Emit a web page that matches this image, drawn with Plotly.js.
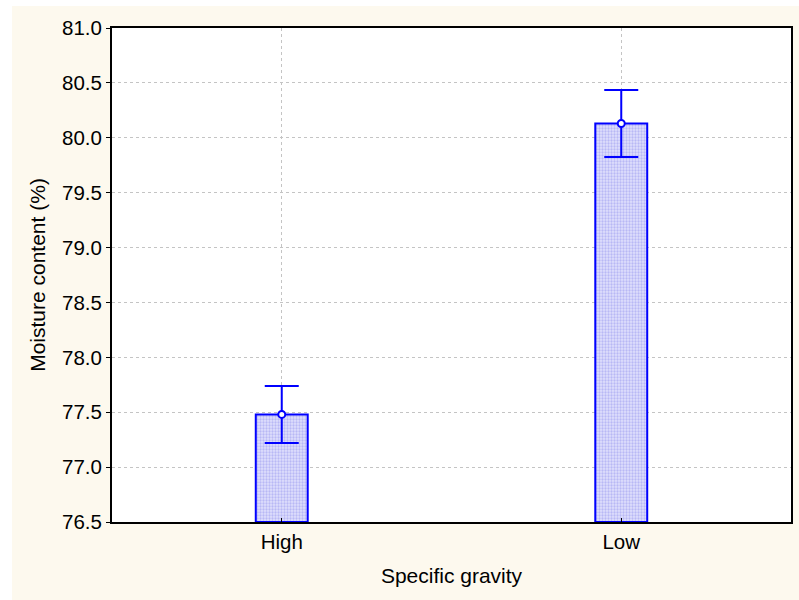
<!DOCTYPE html>
<html><head><meta charset="utf-8">
<script src="https://cdn.plot.ly/plotly-3.0.1.min.js"></script>
<style>
html,body{margin:0;padding:0;background:#ffffff;width:799px;height:600px;overflow:hidden;}
#chart{position:absolute;left:12px;top:6px;width:787px;height:594px;}
</style></head>
<body><div id="chart"></div>
<script>
const categories = ["High", "Low"];
const means = [77.48, 80.13];
const errors = [0.26, 0.305];
const yTickVals = [76.5, 77.0, 77.5, 78.0, 78.5, 79.0, 79.5, 80.0, 80.5, 81.0];
const yTickText = ["76.5", "77.0", "77.5", "78.0", "78.5", "79.0", "79.5", "80.0", "80.5", "81.0"];
const yBase = 76.5;

const tickFont = {family: "Arial, Liberation Sans, sans-serif", size: 20.5, color: "#000"};
const titleFont = {family: "Arial, Liberation Sans, sans-serif", size: 21, color: "#000"};

const bars = {
  type: "bar", x: categories, y: means.map(v => v - yBase), base: yBase,
  width: 0.153,
  marker: {
    color: "#d0d0fa",
    line: {color: "#0000ff", width: 2},
    pattern: {shape: ".", size: 3, solidity: 0.45, fgcolor: "#b8b8f5", bgcolor: "#e0e0fd", fillmode: "replace"}
  },
  error_y: {type: "data", array: errors, visible: true, color: "#0000ff", thickness: 2, width: 17},
  hoverinfo: "none", showlegend: false
};

const pts = {
  type: "scatter", mode: "markers", x: categories, y: means,
  marker: {symbol: "circle", size: 7, color: "#ffffff", line: {color: "#0000ff", width: 2}},
  hoverinfo: "none", showlegend: false
};

const layout = {
  width: 787, height: 594,
  paper_bgcolor: "#fdf9ee", plot_bgcolor: "#ffffff",
  margin: {l: 100, r: 8, t: 22, b: 78},
  font: tickFont,
  xaxis: {
    type: "category", range: [-0.5, 1.5],
    showline: true, linecolor: "#000", linewidth: 2, mirror: true,
    ticks: "inside", ticklen: 4, tickcolor: "#000", tickwidth: 1,
    showgrid: true, gridcolor: "#c4c4c4", griddash: "dot", gridwidth: 1,
    tickfont: tickFont,
    title: {text: "Specific gravity", font: titleFont, standoff: 17}
  },
  yaxis: {
    range: [76.5, 81.0], tickvals: yTickVals, ticktext: yTickText,
    showline: true, linecolor: "#000", linewidth: 2, mirror: true,
    ticks: "outside", ticklen: 4, tickcolor: "#000", tickwidth: 1,
    showgrid: true, gridcolor: "#c4c4c4", griddash: "dot", gridwidth: 1,
    zeroline: false, tickfont: tickFont,
    title: {text: "Moisture content (%)", font: titleFont, standoff: 11}
  },
  bargap: 0
};

Plotly.newPlot("chart", [bars, pts], layout, {displayModeBar: false, staticPlot: true});
</script></body></html>
